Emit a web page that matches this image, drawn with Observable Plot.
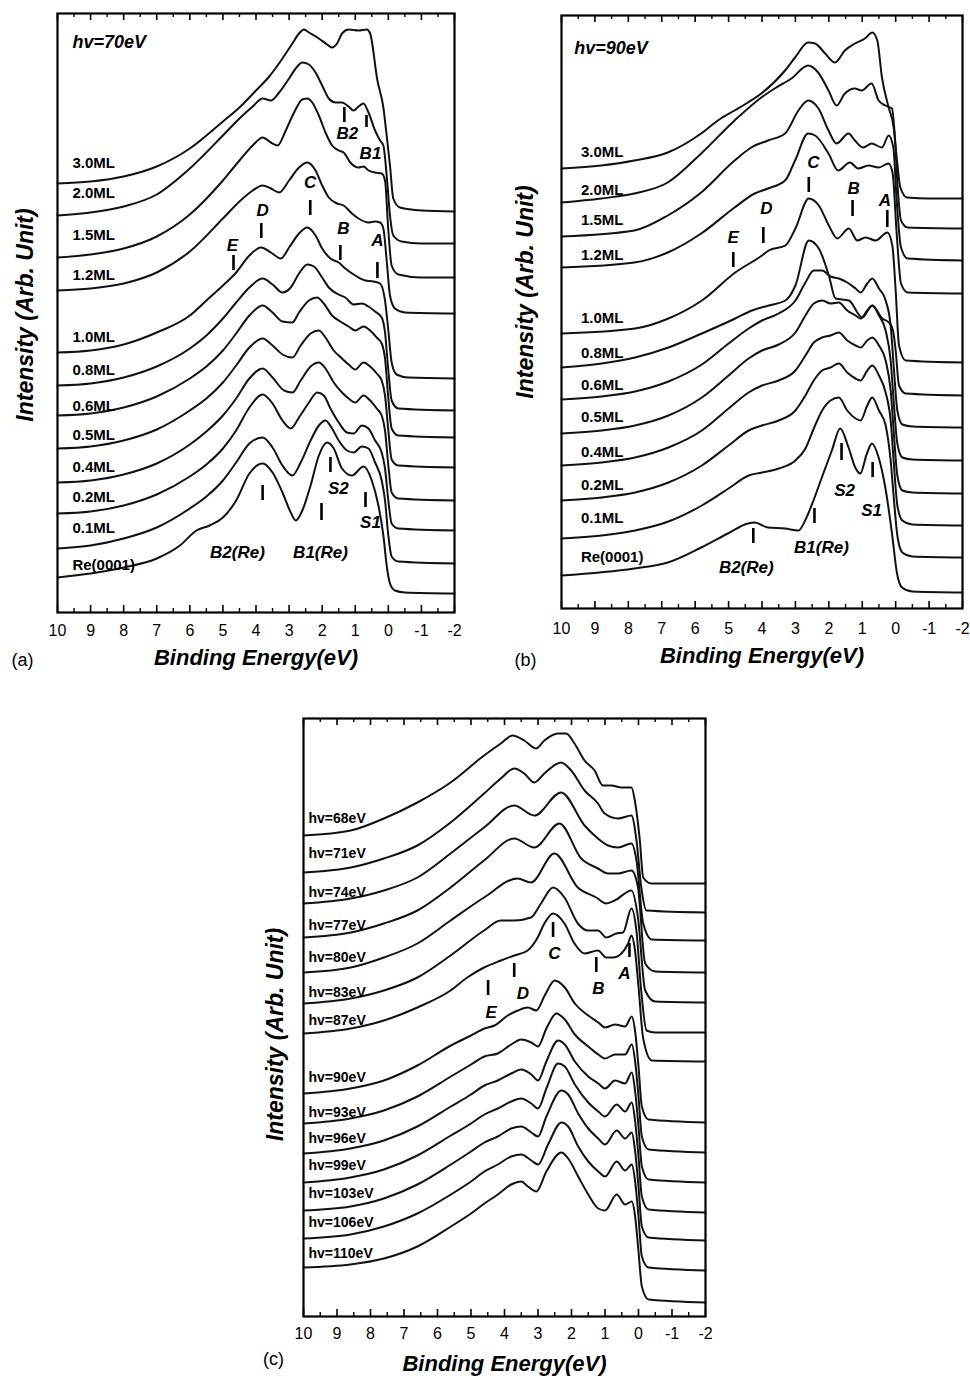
<!DOCTYPE html>
<html><head><meta charset="utf-8">
<script src="https://cdn.jsdelivr.net/npm/d3@7"></script>
<script src="https://cdn.jsdelivr.net/npm/@observablehq/plot@0.6"></script>
<style>
body{margin:0;background:#fff;}
#root{position:relative;width:970px;height:1383px;background:#fff;overflow:hidden;}
.pn{position:absolute;}
</style></head>
<body><div id="root"></div>
<script>
// ---------- shared axis ticks (binding energy, eV) ----------
const majorTicks = [10,9,8,7,6,5,4,3,2,1,0,-1,-2];
const minorTicks = [9.5,8.5,7.5,6.5,5.5,4.5,3.5,2.5,1.5,0.5,-0.5,-1.5];

// ---------- panel (a): hv = 70 eV, coverage series ----------
const aLabels = ["3.0ML","2.0ML","1.5ML","1.2ML","1.0ML","0.8ML","0.6ML","0.5ML","0.4ML","0.2ML","0.1ML","Re(0001)"];
const aLabelI = [449,419,377,337,275,242,206,177,145,115,84,47];
const a30 = [[10,429],[9,431],[8,436],[7,446],[6,464],[5,491],[4.5,505],[4,522],[3.6,536],[3.2,554],[2.9,569],[2.7,579],[2.55,583],[2.4,580],[2.1,574],[1.85,568],[1.7,565],[1.55,569],[1.4,579],[1.2,583],[0.9,582],[0.65,583],[0.55,579],[0.33,532],[0.15,505],[0.05,477],[-0.05,447],[-0.15,414],[-0.35,405],[-1,402],[-2,401]];
const a20 = [[10,397],[9,400],[8,406],[7,418],[6,444],[5,477],[4.5,494],[4.1,506],[3.8,514],[3.55,512],[3.3,520],[3.0,534],[2.8,544],[2.6,550],[2.4,548],[2.2,540],[2.0,527],[1.8,514],[1.6,510],[1.4,510],[1.2,506],[1.05,502],[0.9,506],[0.75,509],[0.6,500],[0.4,482],[0.25,472],[0.15,467],[0.05,437],[-0.05,397],[-0.15,377],[-0.4,371],[-1,369],[-2,369]];
const a15 = [[10,355],[9,358],[8,364],[7,376],[6,398],[5,432],[4.5,452],[4.1,467],[3.8,475],[3.55,470],[3.35,467],[3.1,482],[2.85,500],[2.6,513],[2.45,514],[2.3,510],[2.1,497],[1.9,480],[1.7,467],[1.5,462],[1.35,460],[1.15,450],[0.9,445],[0.75,446],[0.6,442],[0.4,440],[0.2,439],[0.1,432],[0.0,382],[-0.1,347],[-0.3,338],[-1,335],[-2,335]];
const a12 = [[10,322],[9,324],[8,329],[7,340],[6,361],[5,394],[4.5,411],[4.1,422],[3.8,427],[3.55,424],[3.3,420],[3.0,432],[2.7,445],[2.45,450],[2.2,442],[2.0,427],[1.8,415],[1.55,409],[1.35,407],[1.1,399],[0.9,394],[0.6,390],[0.4,391],[0.25,390],[0.15,384],[0.05,352],[-0.05,317],[-0.2,304],[-0.5,300],[-2,299]];
const a10 = [[10,260],[9,262],[8,268],[7,280],[6,297],[5.5,312],[5,327],[4.6,340],[4.2,357],[3.85,365],[3.55,360],[3.25,354],[3.0,365],[2.7,379],[2.45,385],[2.2,377],[2.0,364],[1.75,354],[1.5,350],[1.3,344],[1.0,337],[0.7,332],[0.45,331],[0.25,329],[0.1,312],[0.0,282],[-0.1,250],[-0.25,238],[-0.6,235],[-2,234]];
const a08 = [[10,227],[9,229],[8,235],[7,246],[6,264],[5.5,277],[5,294],[4.6,310],[4.2,325],[3.8,334],[3.5,328],[3.2,320],[2.95,325],[2.7,339],[2.45,348],[2.25,346],[2.0,335],[1.8,325],[1.5,318],[1.3,315],[1.05,308],[0.8,309],[0.6,306],[0.4,301],[0.2,295],[0.1,280],[0.0,242],[-0.1,212],[-0.3,204],[-2,202]];
const a06 = [[10,197],[9,199],[8,205],[7,216],[6,234],[5.5,246],[5,262],[4.6,279],[4.2,297],[3.8,307],[3.5,300],[3.2,291],[2.9,290],[2.7,300],[2.4,312],[2.15,315],[1.95,309],[1.7,297],[1.45,291],[1.2,286],[1.0,282],[0.75,286],[0.55,282],[0.35,275],[0.2,269],[0.1,254],[0.0,214],[-0.1,184],[-0.3,177],[-2,175]];
const a05 = [[10,164],[9,166],[8,172],[7,183],[6,202],[5.5,214],[5,230],[4.6,247],[4.2,265],[3.8,274],[3.5,267],[3.2,258],[2.9,255],[2.65,267],[2.35,279],[2.1,282],[1.9,275],[1.65,262],[1.4,254],[1.2,248],[1.0,243],[0.75,250],[0.55,246],[0.35,239],[0.2,232],[0.1,217],[0.0,182],[-0.1,153],[-0.3,147],[-2,145]];
const a04 = [[10,130],[9,132],[8,138],[7,149],[6,168],[5.5,181],[5,197],[4.6,214],[4.2,234],[3.8,244],[3.5,235],[3.15,222],[2.9,220],[2.65,232],[2.35,246],[2.1,250],[1.9,244],[1.65,230],[1.4,220],[1.2,214],[1.0,210],[0.75,217],[0.55,212],[0.35,204],[0.2,197],[0.1,182],[0.0,147],[-0.1,120],[-0.3,114],[-2,112]];
const a02 = [[10,99],[9,101],[8,107],[7,118],[6,136],[5.5,148],[5,164],[4.6,182],[4.2,205],[3.8,218],[3.5,209],[3.2,192],[2.95,184],[2.7,195],[2.4,210],[2.15,220],[1.95,217],[1.75,204],[1.5,190],[1.25,180],[1.05,179],[0.8,187],[0.6,184],[0.4,172],[0.2,160],[0.1,144],[0.0,112],[-0.1,89],[-0.3,84],[-2,82]];
const a01 = [[10,64],[9,67],[8,74],[7,85],[6,104],[5.5,116],[5,132],[4.6,150],[4.2,169],[3.8,175],[3.5,165],[3.2,147],[2.9,137],[2.65,150],[2.35,172],[2.1,187],[1.9,192],[1.7,184],[1.5,172],[1.25,162],[1.05,160],[0.8,166],[0.6,164],[0.4,150],[0.2,132],[0.1,112],[0.0,77],[-0.1,56],[-0.3,51],[-2,49]];
const aRe = [[10,35],[9,39],[8,45],[7,54],[6.3,67],[5.8,82],[5.4,87],[5,95],[4.6,112],[4.2,139],[3.8,149],[3.5,140],[3.2,120],[2.95,100],[2.8,92],[2.6,102],[2.35,127],[2.1,157],[1.85,170],[1.65,164],[1.4,144],[1.1,137],[0.75,146],[0.5,132],[0.3,107],[0.15,77],[0.05,47],[-0.05,29],[-0.2,22],[-0.5,20],[-2,19]];
const aHv = [{t:"hv=70eV",E:9.55,I:570}];
const aNotes = [
  {t:"B2",E:1.24,I:479},{t:"B1",E:0.54,I:459},
  {t:"C",E:2.36,I:430},{t:"D",E:3.8,I:402},{t:"E",E:4.71,I:367},{t:"B",E:1.36,I:384},{t:"A",E:0.33,I:372},
  {t:"S2",E:1.51,I:124},{t:"S1",E:0.54,I:90},{t:"B2(Re)",E:4.56,I:60},{t:"B1(Re)",E:2.05,I:60}
];
const aMarks = [[1.33,505,490],[0.66,497,485],[2.36,412,397],[3.84,389,374],[4.68,357,342],[1.45,367,352],[0.33,350,334],[1.75,155,140],[0.69,120,105],[3.8,127,112],[2.02,109,92]];

// ---------- panel (b): hv = 90 eV, coverage series ----------
const bLabels = ["3.0ML","2.0ML","1.5ML","1.2ML","1.0ML","0.8ML","0.6ML","0.5ML","0.4ML","0.2ML","0.1ML","Re(0001)"];
const bLabelI = [456,418,388,353,290,255,223,191,156,123,90,51];
const b30 = [[10,440],[8.81,443],[7.82,448],[6.82,456],[5.82,475],[5.32,488],[4.82,498],[4.42,506],[4.02,515],[3.31,538],[3.01,551],[2.62,566],[2.41,565],[2.11,555],[1.82,546],[1.52,558],[1.22,565],[0.92,570],[0.7,576],[0.55,568],[0.41,531],[0.21,501],[0.06,481],[-0.04,448],[-0.14,421],[-0.34,411],[-1,410],[-2,410]];
const b20 = [[10,406],[8.81,410],[7.82,415],[6.82,426],[5.82,455],[4.82,488],[4.02,511],[3.62,520],[3.12,530],[2.62,543],[2.32,536],[2.01,518],[1.77,503],[1.52,515],[1.22,520],[1.02,518],[0.72,525],[0.51,508],[0.31,503],[0.11,500],[0.03,475],[-0.06,421],[-0.16,388],[-0.36,381],[-2,380]];
const b15 = [[10,372],[7.82,378],[6.82,393],[5.82,416],[4.82,448],[4.32,461],[3.82,468],[3.31,475],[2.91,498],[2.62,508],[2.31,500],[2.01,478],[1.77,465],[1.41,475],[1.22,468],[0.97,461],[0.72,465],[0.41,461],[0.21,473],[0.07,461],[-0.03,408],[-0.16,361],[-0.36,350],[-2,348]];
const b12 = [[10,341],[7.82,346],[6.82,356],[5.82,375],[4.82,401],[4.22,415],[3.82,420],[3.31,428],[3.01,448],[2.62,475],[2.41,473],[2.01,455],[1.72,438],[1.37,446],[1.12,440],[0.81,443],[0.51,441],[0.21,445],[0.09,435],[-0.03,375],[-0.16,325],[-0.36,316],[-2,315]];
const b10 = [[10,275],[7.8,280],[6.8,290],[5.8,308],[4.8,336],[4.0,353],[3.8,358],[3.3,363],[3.0,380],[2.6,410],[2.3,403],[2.0,383],[1.75,370],[1.4,380],[1.15,368],[0.9,371],[0.6,368],[0.25,376],[0.1,363],[0,318],[-0.1,263],[-0.3,248],[-2,246]];
const b08 = [[10,241],[8.8,245],[7.8,251],[6.8,261],[5.8,275],[4.8,290],[4.3,298],[3.8,303],[3.3,308],[3.0,323],[2.6,368],[2.3,360],[2.0,333],[1.8,310],[1.4,308],[1.0,291],[0.7,303],[0.4,290],[0.2,286],[0.08,278],[0,258],[-0.1,223],[-0.3,215],[-2,213]];
const b06 = [[10,209],[8.8,212],[7.8,217],[6.8,227],[5.8,244],[5.0,265],[4.4,280],[4.0,288],[3.5,295],[3.0,308],[2.7,326],[2.45,338],[2.2,338],[1.95,332],[1.7,330],[1.45,326],[1.2,320],[1.05,316],[0.85,325],[0.7,330],[0.5,320],[0.3,308],[0.15,283],[0.05,238],[-0.05,198],[-0.2,184],[-0.5,182],[-2,181]];
const b05 = [[10,175],[8.8,178],[7.8,183],[6.8,193],[5.8,211],[5.0,233],[4.4,250],[4.0,258],[3.5,264],[3.0,276],[2.7,293],[2.45,305],[2.2,308],[1.95,305],[1.7,306],[1.45,298],[1.2,293],[1.05,290],[0.85,298],[0.7,303],[0.5,293],[0.3,278],[0.15,248],[0.05,203],[-0.05,165],[-0.2,151],[-0.5,149],[-2,148]];
const b04 = [[10,143],[8.8,146],[7.8,151],[6.8,161],[5.8,178],[5.0,200],[4.4,216],[4.0,223],[3.5,228],[3.0,238],[2.7,253],[2.45,266],[2.2,271],[1.95,273],[1.7,276],[1.45,268],[1.2,263],[1.05,261],[0.85,268],[0.7,271],[0.5,263],[0.3,248],[0.15,218],[0.05,173],[-0.05,133],[-0.2,118],[-0.5,116],[-2,115]];
const b02 = [[10,108],[8.8,111],[7.8,116],[6.8,126],[5.8,143],[5.0,163],[4.4,178],[4.0,183],[3.5,188],[3.0,198],[2.7,213],[2.45,228],[2.2,238],[1.95,241],[1.7,245],[1.45,236],[1.2,230],[1.05,228],[0.85,238],[0.7,243],[0.5,233],[0.3,216],[0.15,188],[0.05,143],[-0.05,103],[-0.2,88],[-0.5,84],[-2,83]];
const b01 = [[10,70],[8.8,73],[7.8,78],[6.8,87],[5.8,103],[5.0,120],[4.4,133],[4.0,136],[3.5,140],[3.0,148],[2.7,160],[2.45,180],[2.2,198],[1.95,208],[1.7,211],[1.45,198],[1.2,190],[1.05,188],[0.85,203],[0.7,211],[0.5,198],[0.3,183],[0.15,148],[0.05,108],[-0.05,73],[-0.2,56],[-0.5,52],[-2,51]];
const bRe = [[10,33],[7.82,40],[6.82,46],[5.82,61],[5.02,75],[4.42,85],[4.22,86],[3.82,81],[3.31,80],[2.91,78],[2.71,88],[2.46,108],[2.21,131],[1.91,158],[1.66,180],[1.41,161],[1.21,141],[1.06,135],[0.86,155],[0.71,165],[0.51,151],[0.31,121],[0.11,75],[-0.04,35],[-0.19,21],[-0.49,17],[-2,16]];
const bHv = [{t:"hv=90eV",E:9.62,I:560}];
const bNotes = [
  {t:"C",E:2.46,I:446},{t:"B",E:1.26,I:420},{t:"A",E:0.32,I:408},{t:"D",E:3.87,I:400},{t:"E",E:4.86,I:371},
  {t:"S2",E:1.53,I:118},{t:"S1",E:0.72,I:98},{t:"B1(Re)",E:2.22,I:61},{t:"B2(Re)",E:4.47,I:41}
];
const bMarks = [[2.6,431,416],[1.29,408,392],[0.25,398,381],[3.96,381,365],[4.86,356,341],[1.62,165,148],[0.69,146,131],[2.43,100,85],[4.26,80,65]];

// ---------- panel (c): photon-energy series ----------
const cLabels = ["hv=68eV","hv=71eV","hv=74eV","hv=77eV","hv=80eV","hv=83eV","hv=87eV","hv=90eV","hv=93eV","hv=96eV","hv=99eV","hv=103eV","hv=106eV","hv=110eV"];
const cLabelI = [498,463,424,391,359,324,296,239,204,178,151,123,94,63];
const c68 = [[10,481],[8.59,486],[7.6,498],[6.6,514],[5.61,534],[4.61,561],[4.11,573],[3.76,581],[3.41,576],[3.06,568],[2.81,576],[2.41,583],[2.16,583],[1.91,573],[1.61,556],[1.31,546],[1.06,531],[0.81,531],[0.51,529],[0.21,529],[0.11,516],[-0.04,476],[-0.14,439],[-0.39,433],[-2,433]];
const c71 = [[10,444],[8.59,449],[7.6,458],[6.6,471],[5.61,494],[4.61,523],[4.11,538],[3.71,548],[3.41,543],[3.11,534],[2.81,543],[2.31,554],[2.01,546],[1.61,526],[1.21,513],[1.01,503],[0.61,498],[0.21,501],[0.06,476],[-0.08,430],[-0.24,406],[-2,404]];
const c74 = [[10,413],[8.59,418],[7.6,426],[6.6,439],[5.61,463],[4.61,489],[3.71,511],[3.11,501],[2.31,524],[1.61,491],[1.21,478],[0.91,471],[0.61,469],[0.21,473],[0.06,456],[-0.14,393],[-0.4,377],[-2,376]];
const c77 = [[10,379],[8.59,384],[7.6,393],[6.6,406],[5.61,429],[4.61,456],[3.71,478],[3.11,469],[2.36,493],[1.71,458],[1.21,448],[0.91,443],[0.61,443],[0.21,446],[0.02,430],[-0.2,353],[-0.5,345],[-2,344]];
const c80 = [[10,344],[8.59,349],[7.6,359],[6.6,373],[5.61,396],[4.61,419],[3.61,438],[3.21,434],[2.51,463],[1.81,429],[1.26,419],[0.96,413],[0.71,416],[0.21,426],[0.02,400],[-0.2,326],[-0.5,315],[-2,314]];
const c83 = [[10,313],[8.59,318],[7.6,326],[6.6,339],[5.61,361],[4.61,386],[4.11,396],[3.71,396],[3.21,399],[2.91,413],[2.55,429],[2.21,419],[1.81,393],[1.51,386],[1.21,386],[0.96,379],[0.66,383],[0.46,384],[0.21,408],[0.06,385],[-0.08,326],[-0.24,286],[-0.5,284],[-2,284]];
const c87 = [[10,283],[8.59,288],[7.6,296],[6.6,309],[5.61,326],[5.11,339],[4.61,349],[4.11,356],[3.71,361],[3.31,366],[3.01,379],[2.81,393],[2.55,403],[2.21,393],[1.91,373],[1.61,363],[1.21,366],[0.96,359],[0.76,359],[0.51,363],[0.31,373],[0.21,381],[0.12,370],[0.0,330],[-0.14,278],[-0.4,256],[-2,255]];
const c90 = [[10,223],[8.6,228],[7.6,236],[6.6,251],[5.6,271],[5.0,281],[4.6,288],[4.3,291],[3.9,301],[3.6,306],[3.3,309],[3.05,306],[2.8,321],[2.5,336],[2.2,329],[1.9,313],[1.5,301],[1.2,294],[1.0,289],[0.7,292],[0.4,290],[0.2,300],[0.1,285],[0.0,250],[-0.1,210],[-0.3,197],[-2,194]];
const c93 = [[10,193],[8.6,198],[7.6,206],[6.6,220],[5.6,240],[5.0,252],[4.6,260],[4.2,263],[3.8,272],[3.5,277],[3.2,274],[3.0,270],[2.75,288],[2.45,303],[2.2,297],[1.9,282],[1.5,270],[1.2,262],[1.0,258],[0.7,262],[0.4,262],[0.2,272],[0.1,255],[0.0,220],[-0.1,180],[-0.3,167],[-2,164]];
const c96 = [[10,163],[8.6,168],[7.6,176],[6.6,190],[5.6,210],[5.0,222],[4.6,231],[4.2,236],[3.8,243],[3.5,247],[3.2,242],[3.0,236],[2.75,255],[2.4,276],[2.2,272],[1.9,255],[1.5,240],[1.2,233],[1.0,228],[0.7,236],[0.4,233],[0.2,244],[0.1,225],[0.0,190],[-0.1,150],[-0.3,137],[-2,134]];
const c99 = [[10,134],[8.6,139],[7.6,147],[6.6,161],[5.6,181],[5.0,193],[4.6,202],[4.2,208],[3.8,215],[3.5,218],[3.2,213],[3.0,208],[2.75,228],[2.4,253],[2.2,250],[1.9,232],[1.5,214],[1.2,205],[1.0,200],[0.65,212],[0.4,205],[0.2,214],[0.1,195],[0.0,160],[-0.1,120],[-0.3,107],[-2,104]];
const c103 = [[10,106],[8.6,110],[7.6,118],[6.6,132],[5.6,152],[5.0,165],[4.6,174],[4.2,180],[3.8,188],[3.5,190],[3.2,184],[3.0,180],[2.75,200],[2.3,226],[2.1,222],[1.8,203],[1.5,188],[1.2,178],[1.0,172],[0.65,186],[0.4,178],[0.2,184],[0.1,165],[0.0,130],[-0.1,90],[-0.3,79],[-2,76]];
const c106 = [[10,78],[8.6,82],[7.6,90],[6.6,103],[5.6,122],[5.0,135],[4.6,145],[4.2,152],[3.8,160],[3.5,162],[3.2,156],[3.0,152],[2.7,172],[2.3,194],[2.1,190],[1.8,170],[1.5,155],[1.2,145],[1.0,140],[0.65,155],[0.4,146],[0.2,152],[0.1,135],[0.0,100],[-0.1,60],[-0.3,49],[-2,46]];
const c110 = [[10,49],[8.6,52],[7.6,58],[6.6,70],[5.6,90],[5.0,103],[4.6,113],[4.2,122],[3.8,132],[3.5,135],[3.3,130],[3.05,125],[2.75,145],[2.3,164],[2.1,158],[1.8,140],[1.5,122],[1.2,108],[1.0,106],[0.65,122],[0.4,112],[0.2,115],[0.1,100],[0.0,65],[-0.1,30],[-0.3,17],[-2,14]];
const cHv = [];
const cNotes = [
  {t:"C",E:2.51,I:363},{t:"D",E:3.45,I:323},{t:"E",E:4.4,I:304},{t:"B",E:1.2,I:328},{t:"A",E:0.42,I:343}
];
const cMarks = [[2.55,394,379],[3.71,353,339],[4.49,336,321],[1.26,359,344],[0.27,373,359]];

// ---------- drawing ----------
const FONT = "'Liberation Sans', Arial, Helvetica, sans-serif";
const root = document.getElementById("root");

function panel(p) {
  const H = p.frameB - p.frameT;
  const rows = p.spectra.flatMap((pts, k) => pts.map(([E, I]) => ({E, I, k})));
  const lab = p.labels.map((t, k) => ({t, E: p.labelE, I: p.labelI[k]}));
  const ticks = p.marks.map(([E, I1, I2]) => ({E, I1, I2}));
  const svg = Plot.plot({
    width: p.width, height: p.height,
    marginLeft: p.frameL - p.left, marginTop: p.frameT - p.top,
    marginRight: p.left + p.width - p.frameR, marginBottom: p.top + p.height - p.frameB,
    x: {domain: [10, -2], axis: null},
    y: {domain: [0, H], axis: null},
    style: {fontFamily: FONT, background: "transparent", overflow: "visible", color: "#000"},
    marks: [
      Plot.line(rows, {x: "E", y: "I", z: "k", curve: "monotone-x", stroke: "#111", strokeWidth: 2, strokeLinejoin: "round"}),
      Plot.frame({stroke: "#000", strokeWidth: 2.2}),
      Plot.ruleX(majorTicks, {x: d => d, y1: 0, y2: 7, stroke: "#000", strokeWidth: 1.6}),
      Plot.ruleX(minorTicks, {x: d => d, y1: 0, y2: 4, stroke: "#000", strokeWidth: 1.4}),
      Plot.ruleX(majorTicks, {x: d => d, y1: H - 7, y2: H, stroke: "#000", strokeWidth: 1.6}),
      Plot.ruleX(minorTicks, {x: d => d, y1: H - 4, y2: H, stroke: "#000", strokeWidth: 1.4}),
      Plot.text(majorTicks, {x: d => d, y: 0, dy: p.tickDy, text: d => String(d), fontSize: 16, fill: "#000"}),
      Plot.text(lab, {x: "E", y: "I", text: "t", textAnchor: "start", fontSize: p.labelSize, fontWeight: "bold", fill: "#000", ariaLabel: "spectrum-labels"}),
      Plot.ruleX(ticks, {x: "E", y1: "I1", y2: "I2", stroke: "#000", strokeWidth: 2.6}),
      Plot.text(p.notes, {x: "E", y: "I", text: "t", textAnchor: "middle", fontSize: 17, fontWeight: "bold", fontStyle: "italic", fill: "#000"}),
      Plot.text(p.hv, {x: "E", y: "I", text: "t", textAnchor: "start", fontSize: 18, fontWeight: "bold", fontStyle: "italic", fill: "#000"}),
      Plot.text(["Binding Energy(eV)"], {frameAnchor: "bottom", textAnchor: "middle", dy: p.titleDy, fontSize: 22, fontWeight: "bold", fontStyle: "italic", fill: "#000", ariaLabel: "x-title"}),
      Plot.text(["Intensity (Arb. Unit)"], {frameAnchor: "left", textAnchor: "middle", rotate: -90, dx: p.yTitleDx, dy: p.yTitleDy, fontSize: 23, fontWeight: "bold", fontStyle: "italic", fill: "#000", ariaLabel: "y-title"}),
      Plot.text([p.tag], {frameAnchor: "bottom-left", textAnchor: "middle", dx: p.tagDx, dy: p.tagDy, fontSize: 18, fill: "#000"})
    ]
  });
  d3.select(svg).selectAll("g[aria-label='spectrum-labels'] text").attr("letter-spacing", "-0.6px");
  d3.select(svg).selectAll("g[aria-label='y-title'] text").attr("letter-spacing", "1.4px");
  d3.select(svg).selectAll("g[aria-label='x-title'] text").attr("letter-spacing", "0.8px");
  const div = document.createElement("div");
  div.className = "pn";
  div.style.left = p.left + "px";
  div.style.top = p.top + "px";
  div.appendChild(svg);
  root.appendChild(div);
}

panel({
  left: 0, top: 0, width: 466, height: 690,
  frameL: 57, frameR: 454, frameT: 13, frameB: 612,
  spectra: [a30,a20,a15,a12,a10,a08,a06,a05,a04,a02,a01,aRe],
  labels: aLabels, labelI: aLabelI, labelE: 9.55, labelSize: 15,
  notes: aNotes, hv: aHv, marks: aMarks,
  tickDy: 18, titleDy: 52, yTitleDx: -32, yTitleDy: 2, tag: "(a)", tagDx: -35, tagDy: 53
});
panel({
  left: 480, top: 0, width: 490, height: 683,
  frameL: 561, frameR: 962, frameT: 15, frameB: 608,
  spectra: [b30,b20,b15,b12,b10,b08,b06,b05,b04,b02,b01,bRe],
  labels: bLabels, labelI: bLabelI, labelE: 9.42, labelSize: 15,
  notes: bNotes, hv: bHv, marks: bMarks,
  tickDy: 20, titleDy: 54, yTitleDx: -36, yTitleDy: -20, tag: "(b)", tagDx: -36, tagDy: 57
});
panel({
  left: 240, top: 690, width: 480, height: 693,
  frameL: 303, frameR: 705, frameT: 718, frameB: 1316,
  spectra: [c68,c71,c74,c77,c80,c83,c87,c90,c93,c96,c99,c103,c106,c110],
  labels: cLabels, labelI: cLabelI, labelE: 9.85, labelSize: 14,
  notes: cNotes, hv: cHv, marks: cMarks,
  tickDy: 17, titleDy: 54, yTitleDx: -28, yTitleDy: 17, tag: "(c)", tagDx: -30, tagDy: 48
});
</script>
</body></html>
